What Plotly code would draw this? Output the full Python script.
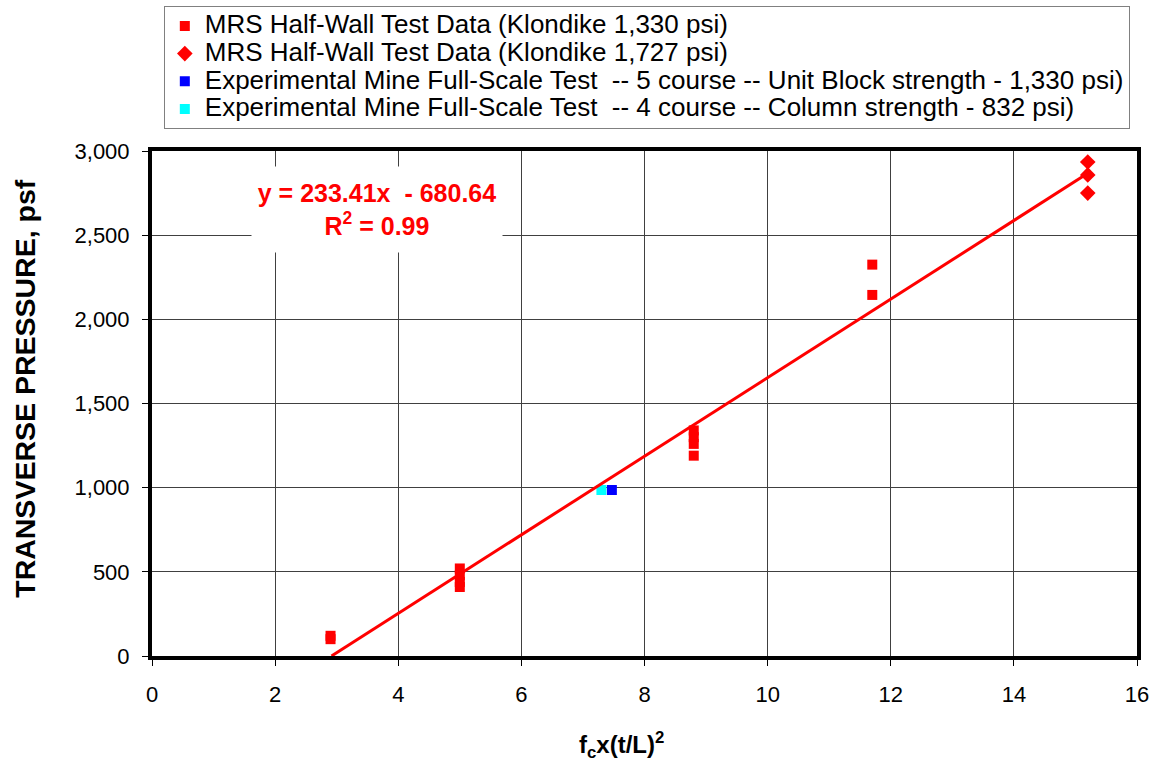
import plotly.graph_objects as go

# Data
k1330_x = [2.9, 2.9, 5.0, 5.0, 5.0, 5.0, 8.8, 8.8, 8.8, 8.8, 11.7, 11.7]
k1330_y = [100, 120, 520, 480, 440, 410, 1340, 1300, 1260, 1190, 2325, 2145]
k1727_x = [15.2, 15.2, 15.2]
k1727_y = [2935, 2858, 2750]
em5_x = [7.47]
em5_y = [986]
em4_x = [7.30]
em4_y = [986]

slope = 233.41
intercept = -680.64
r2 = 0.99
trend_x = [-intercept / slope, 15.2]
trend_y = [slope * v + intercept for v in trend_x]

names = [
    "MRS Half-Wall Test Data (Klondike 1,330 psi)",
    "MRS Half-Wall Test Data (Klondike 1,727 psi)",
    "Experimental Mine Full-Scale Test  -- 5 course -- Unit Block strength - 1,330 psi)",
    "Experimental Mine Full-Scale Test  -- 4 course -- Column strength - 832 psi)",
]


def big(t):
    return f'<span style="font-size:26px">{t}</span>'


fig = go.Figure()
fig.add_trace(go.Scatter(x=k1330_x, y=k1330_y, mode="markers", name=big(names[0]),
                         marker=dict(symbol="square", size=10, color="#FF0000")))
fig.add_trace(go.Scatter(x=k1727_x, y=k1727_y, mode="markers", name=big(names[1]),
                         marker=dict(symbol="diamond", size=12, color="#FF0000")))
fig.add_trace(go.Scatter(x=em5_x, y=em5_y, mode="markers", name=big(names[2]),
                         marker=dict(symbol="square", size=10, color="#0000FF")))
fig.add_trace(go.Scatter(x=em4_x, y=em4_y, mode="markers", name=big(names[3]),
                         marker=dict(symbol="square", size=10, color="#00FFFF")))
fig.add_trace(go.Scatter(x=trend_x, y=trend_y, mode="lines", showlegend=False,
                         line=dict(color="#FF0000", width=3)))

fig.add_annotation(
    x=3.66, y=2650, xref="x", yref="y",
    text=f"<b>y = {slope}x  - {abs(intercept)}<br>R<sup>2</sup> = {r2}</b>",
    showarrow=False, align="center", width=244, height=79, borderpad=3,
    font=dict(family="Arial, Liberation Sans", size=25, color="#FF0000"),
    bgcolor="white",
)

# axis titles
fig.add_annotation(
    x=0.477, y=-0.176, xref="paper", yref="paper", showarrow=False,
    xanchor="center", yanchor="middle",
    text="<b>f<sub>c</sub>x(t/L)<sup>2</sup></b>",
    font=dict(family="Arial, Liberation Sans", size=24, color="black"),
)
fig.add_annotation(
    x=-0.129, y=0.531, xref="paper", yref="paper", showarrow=False, textangle=-90,
    xanchor="center", yanchor="middle",
    text="<b>TRANSVERSE PRESSURE, psf</b>",
    font=dict(family="Arial, Liberation Sans", size=28.5, color="black"),
)

fig.update_layout(
    width=1159, height=761,
    margin=dict(l=152, r=22, t=151, b=105, autoexpand=False),
    paper_bgcolor="white", plot_bgcolor="white",
    font=dict(family="Arial, Liberation Sans", color="black"),
    legend=dict(
        x=0.012, y=1.287, xanchor="left", yanchor="top",
        bordercolor="#808080", borderwidth=1, bgcolor="white",
        font=dict(family="Arial, Liberation Sans", size=19),
    ),
    xaxis=dict(
        range=[0, 16], dtick=2, tick0=0,
        showgrid=True, gridcolor="#404040", gridwidth=1,
        showline=True, linecolor="black", linewidth=4, mirror=True,
        ticks="outside", ticklen=6, tickcolor="black",
        tickfont=dict(size=22), ticklabelstandoff=10,
        zeroline=False,
    ),
    yaxis=dict(
        range=[0, 3000], dtick=500, tick0=0, tickformat=",d",
        showgrid=True, gridcolor="#404040", gridwidth=1,
        showline=True, linecolor="black", linewidth=4, mirror=True,
        ticks="outside", ticklen=6, tickcolor="black",
        tickfont=dict(size=22), ticklabelstandoff=8,
        zeroline=False,
    ),
)

fig.write_html("out.html")
